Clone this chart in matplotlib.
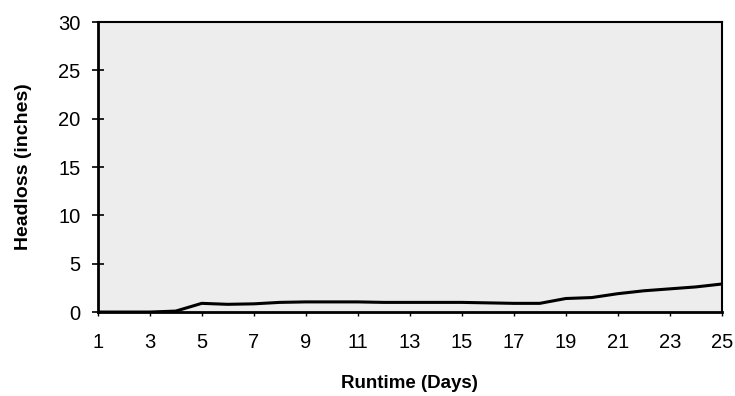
import numpy as np
import matplotlib.pyplot as plt

plt.rcParams['font.family'] = ['Liberation Sans', 'DejaVu Sans']

# datos
dias = [1, 2, 3, 4, 5, 6, 7, 8, 9, 10, 11, 12, 13,
        14, 15, 16, 17, 18, 19, 20, 21, 22, 23, 24, 25]
headloss = [0, 0, 0, 0.1, 0.9, 0.8, 0.85, 1.0, 1.05, 1.05, 1.05, 1.0, 1.0,
            1.0, 1.0, 0.95, 0.9, 0.9, 1.4, 1.5, 1.9, 2.2, 2.4, 2.6, 2.9]
xticks = list(range(1, 26, 2))
yticks = [0, 5, 10, 15, 20, 25, 30]

fig, ax = plt.subplots(figsize=(7.35, 3.96), dpi=100)
fig.subplots_adjust(left=0.133, right=0.982, top=0.944, bottom=0.212)

ax.set_facecolor('#ededed')
ax.plot(dias, headloss, color='black', linewidth=2.2)

ax.set_xlim(1, 25)
ax.set_ylim(0, 30)
ax.set_xticks(xticks)
ax.set_yticks(yticks)
ax.tick_params(axis='y', direction='inout', length=9, width=1.2, labelsize=14.5, pad=8)
ax.tick_params(axis='x', direction='out', length=3, width=1, labelsize=14.5, pad=12)

for lado in ['left', 'bottom']:
    ax.spines[lado].set_linewidth(2)
for lado in ['top', 'right']:
    ax.spines[lado].set_linewidth(1.5)

ax.set_xlabel('Runtime (Days)', fontsize=13.5, fontweight='bold', labelpad=17)
ax.set_ylabel('Headloss (inches)', fontsize=14, fontweight='bold', labelpad=19)

fig.savefig('out.png', dpi=100)
